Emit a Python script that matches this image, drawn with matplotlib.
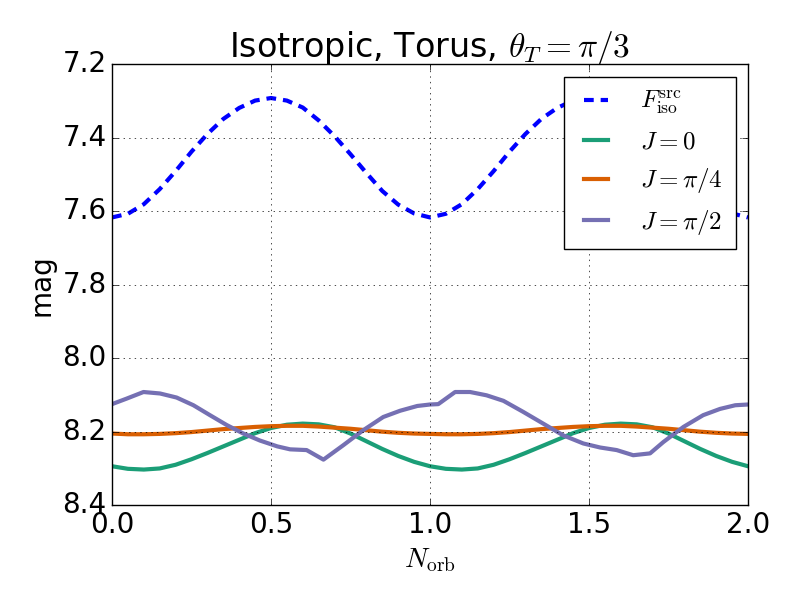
import matplotlib
matplotlib.use("Agg")
from matplotlib import pyplot as plt
import numpy as np

plt.style.use('classic')
plt.rcParams['font.family'] = ['DejaVu Sans']
plt.rcParams['mathtext.fontset'] = 'cm'

# orbital phase grid for the smooth curves
n_orb = [0.00, 0.05, 0.10, 0.15, 0.20, 0.25, 0.30, 0.35, 0.40, 0.45,
         0.50, 0.55, 0.60, 0.65, 0.70, 0.75, 0.80, 0.85, 0.90, 0.95,
         1.00, 1.05, 1.10, 1.15, 1.20, 1.25, 1.30, 1.35, 1.40, 1.45,
         1.50, 1.55, 1.60, 1.65, 1.70, 1.75, 1.80, 1.85, 1.90, 1.95, 2.00]

f_src = [7.617, 7.607, 7.581, 7.540, 7.491, 7.438, 7.390, 7.349, 7.319, 7.299,
         7.292, 7.299, 7.318, 7.353, 7.396, 7.445, 7.496, 7.545, 7.582, 7.606,
         7.617, 7.607, 7.581, 7.540, 7.491, 7.438, 7.390, 7.349, 7.319, 7.299,
         7.292, 7.299, 7.318, 7.353, 7.396, 7.445, 7.496, 7.545, 7.582, 7.606, 7.617]

j_0 = [8.294, 8.301, 8.303, 8.300, 8.290, 8.275, 8.258, 8.240, 8.222, 8.204,
       8.190, 8.181, 8.178, 8.180, 8.188, 8.205, 8.226, 8.247, 8.266, 8.282,
       8.294, 8.301, 8.303, 8.300, 8.290, 8.275, 8.258, 8.240, 8.222, 8.204,
       8.190, 8.181, 8.178, 8.180, 8.188, 8.205, 8.226, 8.247, 8.266, 8.282, 8.294]

j_pi4 = [8.205, 8.207, 8.207, 8.206, 8.204, 8.201, 8.197, 8.193, 8.190, 8.187,
         8.185, 8.184, 8.184, 8.186, 8.189, 8.192, 8.196, 8.200, 8.203, 8.205,
         8.206, 8.207, 8.207, 8.206, 8.204, 8.201, 8.197, 8.193, 8.190, 8.187,
         8.185, 8.184, 8.184, 8.186, 8.189, 8.192, 8.196, 8.200, 8.203, 8.205, 8.206]

# J = pi/2 has kinks, so it gets its own sample points
n_orb_pi2 = [0.000, 0.046, 0.099, 0.151, 0.203, 0.256, 0.308, 0.361, 0.413, 0.465,
             0.520, 0.560, 0.612, 0.665, 0.727, 0.790, 0.853, 0.906, 0.960, 1.000,
             1.026, 1.079, 1.126, 1.178, 1.231, 1.293, 1.356, 1.419, 1.482, 1.535,
             1.587, 1.639, 1.692, 1.734, 1.797, 1.859, 1.912, 1.960, 2.000]
j_pi2 = [8.125, 8.110, 8.092, 8.096, 8.107, 8.128, 8.155, 8.182, 8.205, 8.224,
         8.240, 8.248, 8.250, 8.276, 8.237, 8.196, 8.160, 8.143, 8.130, 8.126,
         8.125, 8.092, 8.092, 8.101, 8.116, 8.146, 8.178, 8.210, 8.232, 8.243,
         8.250, 8.264, 8.259, 8.228, 8.187, 8.155, 8.138, 8.128, 8.126]

fig = plt.figure(figsize=(8, 6), dpi=100, facecolor='white')
ax = fig.add_subplot(111)
fig.subplots_adjust(left=0.14, right=0.935, top=0.893, bottom=0.158)

ax.plot(n_orb, f_src, color='b', lw=3, ls='--', dashes=(7, 5),
        label=r'$F_{\rm iso}^{\rm src}$')
ax.plot(n_orb, j_0, color='#1b9e77', lw=3, label=r'$J=0$')
ax.plot(n_orb, j_pi4, color='#d95f02', lw=3, label=r'$J=\pi/4$')
ax.plot(n_orb_pi2, j_pi2, color='#7570b3', lw=3, label=r'$J=\pi/2$')

ax.set_xlim(0, 2)
ax.set_ylim(8.4, 7.2)
ax.set_xticks([0.0, 0.5, 1.0, 1.5, 2.0])
ax.set_yticks([7.2, 7.4, 7.6, 7.8, 8.0, 8.2, 8.4])
ax.tick_params(labelsize=20)
ax.grid(True)

ax.set_xlabel(r'$N_{\rm orb}$', fontsize=20)
ax.set_ylabel('mag', fontsize=20)
ax.set_title(r'Isotropic, Torus, $\theta_T=\pi/3$', fontsize=24)

ax.legend(loc='upper right', fontsize=18, handlelength=1.55,
          handletextpad=1.0, borderpad=0.5, labelspacing=0.5)

fig.savefig('out.png', dpi=100, facecolor='white')
